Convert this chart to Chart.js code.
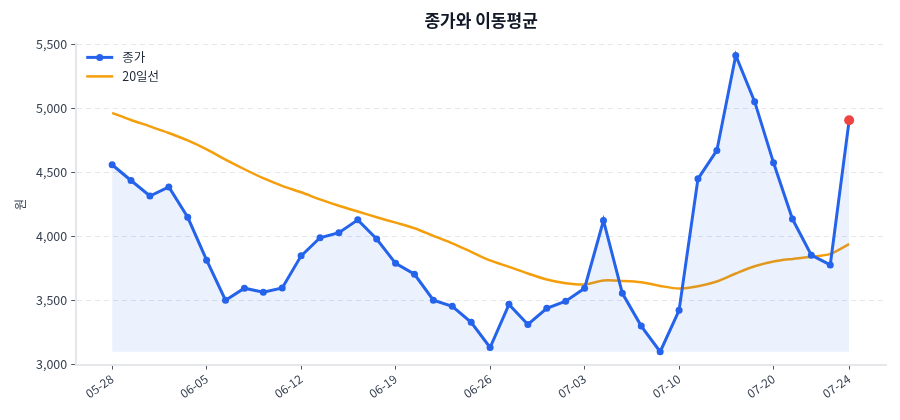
<!DOCTYPE html>
<html>
<head>
<meta charset="utf-8">
<script src="https://cdn.jsdelivr.net/npm/chart.js@4.4.1/dist/chart.umd.min.js"></script>
<style>
  html, body { margin: 0; padding: 0; background: #ffffff; }
  #wrap { width: 900px; height: 420px; }
</style>
</head>
<body>
<div id="wrap"><canvas id="priceChart"></canvas></div>
<script>
// 거래일 라벨
const dates = [
    '05-28', '05-29', '05-30', '06-02', '06-03', '06-05', '06-08', '06-09', '06-10', '06-11',
    '06-12', '06-13', '06-16', '06-17', '06-18', '06-19', '06-20', '06-23', '06-24', '06-25',
    '06-26', '06-27', '06-30', '07-01', '07-02', '07-03', '07-04', '07-07', '07-08', '07-09',
    '07-10', '07-11', '07-14', '07-16', '07-17', '07-20', '07-21', '07-22', '07-23', '07-24'
];

// 종가
const closePrices = [
    4560, 4437, 4316, 4387, 4150, 3815, 3502, 3596, 3565, 3598,
    3849, 3990, 4030, 4130, 3980, 3790, 3705, 3502, 3455, 3330,
    3133, 3470, 3313, 3439, 3494, 3596, 4125, 3556, 3300, 3100,
    3423, 4450, 4672, 5414, 5053, 4575, 4136, 3854, 3778, 4907
];

// 20일 이동평균
const ma20 = [
    4965, 4910, 4860, 4808, 4750, 4680, 4600, 4525, 4455, 4395,
    4345, 4290, 4240, 4195, 4150, 4108, 4064, 4005, 3946, 3880,
    3813, 3763, 3711, 3664, 3635, 3625, 3656, 3653, 3643, 3614,
    3593, 3611, 3648, 3711, 3768, 3805, 3825, 3841, 3864, 3940
];

// x축에 표시할 라벨 위치
const tickIndexes = [0, 5, 10, 15, 20, 25, 30, 35, 39];
const fillBase = 3100;

const FONT = "'Noto Sans CJK KR', 'Noto Sans', sans-serif";
const blue = '#2563eb';
const orange = '#f59e0b';
const red = '#ef4444';
const lastIdx = closePrices.length - 1;

// 범례를 차트 영역 안쪽 좌상단에 그림
const innerLegend = {
    id: 'innerLegend',
    afterDraw(chart) {
        const { ctx, chartArea } = chart;
        const x = chartArea.left + 10;
        let y = chartArea.top + 13;
        ctx.save();
        ctx.font = '12.5px ' + FONT;
        ctx.textBaseline = 'middle';

        ctx.strokeStyle = blue;
        ctx.lineWidth = 3;
        ctx.beginPath();
        ctx.moveTo(x, y);
        ctx.lineTo(x + 27, y);
        ctx.stroke();
        ctx.fillStyle = blue;
        ctx.beginPath();
        ctx.arc(x + 13.5, y, 3.5, 0, Math.PI * 2);
        ctx.fill();
        ctx.fillStyle = '#1f2937';
        ctx.fillText('종가', x + 36, y);

        y += 19;
        ctx.strokeStyle = orange;
        ctx.lineWidth = 2.5;
        ctx.beginPath();
        ctx.moveTo(x, y);
        ctx.lineTo(x + 27, y);
        ctx.stroke();
        ctx.fillText('20일선', x + 36, y);
        ctx.restore();
    }
};

const ctx = document.getElementById('priceChart').getContext('2d');
new Chart(ctx, {
    type: 'line',
    data: {
        datasets: [{
            label: '종가',
            data: closePrices.map((v, i) => ({ x: i, y: v })),
            borderColor: blue,
            borderWidth: 3,
            backgroundColor: 'rgba(37, 99, 235, 0.09)',
            fill: { value: fillBase },
            tension: 0,
            pointRadius: closePrices.map((v, i) => i === lastIdx ? 5 : 3.5),
            pointBackgroundColor: closePrices.map((v, i) => i === lastIdx ? red : blue),
            pointBorderColor: closePrices.map((v, i) => i === lastIdx ? red : blue),
            pointBorderWidth: 0,
            order: 1
        }, {
            label: '20일선',
            data: ma20.map((v, i) => ({ x: i, y: v })),
            borderColor: orange,
            borderWidth: 2.5,
            fill: false,
            tension: 0.3,
            pointRadius: 0,
            order: 2
        }]
    },
    options: {
        responsive: true,
        maintainAspectRatio: false,
        animation: false,
        layout: {
            padding: { left: 9, right: 14, top: 0, bottom: 17 }
        },
        plugins: {
            legend: { display: false },
            tooltip: { enabled: false },
            title: {
                display: true,
                text: '종가와 이동평균',
                fullSize: false,
                color: '#111827',
                font: { family: FONT, size: 17, weight: 'bold' },
                padding: { top: 10, bottom: 14 }
            }
        },
        scales: {
            x: {
                type: 'linear',
                min: -1.9,
                max: 40.95,
                afterBuildTicks(axis) {
                    axis.ticks = tickIndexes.map(v => ({ value: v }));
                },
                grid: {
                    display: true,
                    drawOnChartArea: false,
                    drawTicks: true,
                    tickLength: 5,
                    tickColor: '#4b5563'
                },
                border: { color: '#e5e7eb', width: 2 },
                ticks: {
                    autoSkip: false,
                    maxRotation: 35,
                    minRotation: 35,
                    color: '#374151',
                    padding: 2,
                    font: { family: FONT, size: 12 },
                    callback: function(value) {
                        return dates[value];
                    }
                }
            },
            y: {
                min: 3000,
                max: 5500,
                title: {
                    display: true,
                    text: '원',
                    color: '#374151',
                    font: { family: FONT, size: 12.5 }
                },
                grid: {
                    color: '#e5e7eb',
                    drawTicks: true,
                    tickLength: 5,
                    tickColor: '#4b5563'
                },
                border: { display: true, color: '#e5e7eb', width: 2, dash: [5, 4] },
                ticks: {
                    stepSize: 500,
                    color: '#374151',
                    padding: 4,
                    font: { family: FONT, size: 12.5 },
                    callback: function(value) {
                        return value.toLocaleString('en-US');
                    }
                }
            }
        }
    },
    plugins: [innerLegend]
});
</script>
</body>
</html>
